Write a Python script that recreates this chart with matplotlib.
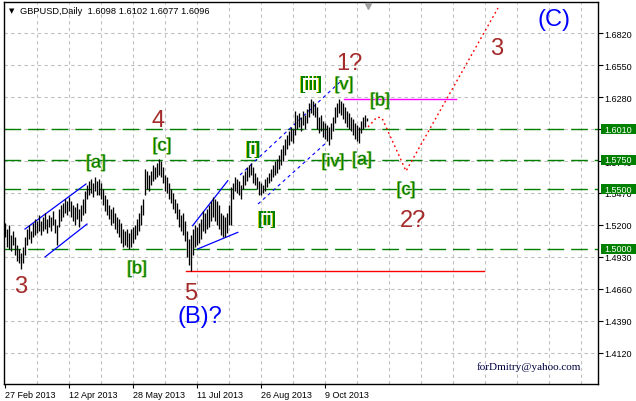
import numpy as np
import matplotlib
matplotlib.use('Agg')
import matplotlib.pyplot as plt
import matplotlib.patheffects as pe
import matplotlib.transforms as mtransforms
from matplotlib.patches import Rectangle

plt.rcParams['font.family'] = ['Liberation Sans', 'DejaVu Sans']

# GBPUSD daily bars, 27 Feb 2013 .. 8 Nov 2013
highs = [1.5217, 1.5166, 1.5200, 1.5116, 1.5149, 1.5099, 1.5031, 1.4998, 1.4964, 1.5014,
         1.5099, 1.5166, 1.5200, 1.5149, 1.5217, 1.5251, 1.5234, 1.5284, 1.5234, 1.5267,
         1.5301, 1.5251, 1.5284, 1.5267, 1.5318, 1.5251, 1.5200, 1.5335, 1.5369, 1.5386,
         1.5419, 1.5402, 1.5436, 1.5402, 1.5369, 1.5352, 1.5386, 1.5335, 1.5369, 1.5419,
         1.5487, 1.5537, 1.5571, 1.5588, 1.5554, 1.5605, 1.5571, 1.5588, 1.5554, 1.5504,
         1.5453, 1.5419, 1.5369, 1.5335, 1.5352, 1.5301, 1.5267, 1.5251, 1.5217, 1.5166,
         1.5149, 1.5166, 1.5133, 1.5166, 1.5183, 1.5200, 1.5251, 1.5301, 1.5369, 1.5419,
         1.5672, 1.5655, 1.5622, 1.5655, 1.5706, 1.5689, 1.5723, 1.5757, 1.5740, 1.5689,
         1.5622, 1.5605, 1.5554, 1.5504, 1.5470, 1.5419, 1.5386, 1.5335, 1.5284, 1.5301,
         1.5234, 1.5149, 1.5082, 1.5116, 1.5166, 1.5200, 1.5183, 1.5217, 1.5251, 1.5318,
         1.5301, 1.5335, 1.5369, 1.5402, 1.5436, 1.5419, 1.5402, 1.5369, 1.5301, 1.5284,
         1.5267, 1.5301, 1.5369, 1.5521, 1.5554, 1.5605, 1.5588, 1.5571, 1.5537, 1.5622,
         1.5655, 1.5689, 1.5706, 1.5723, 1.5689, 1.5639, 1.5605, 1.5571, 1.5554, 1.5537,
         1.5588, 1.5605, 1.5639, 1.5672, 1.5706, 1.5740, 1.5757, 1.5790, 1.5841, 1.5875,
         1.5925, 1.5959, 1.5993, 1.6027, 1.6010, 1.6162, 1.6128, 1.6145, 1.6111, 1.6162,
         1.6128, 1.6179, 1.6229, 1.6263, 1.6246, 1.6229, 1.6196, 1.6111, 1.6128, 1.6077,
         1.6061, 1.6044, 1.6027, 1.6061, 1.6111, 1.6196, 1.6229, 1.6263, 1.6246, 1.6229,
         1.6196, 1.6162, 1.6145, 1.6111, 1.6094, 1.6061, 1.6044, 1.6027, 1.6077, 1.6111,
         1.6128, 1.6102]
lows = [1.5099, 1.5014, 1.4998, 1.4981, 1.5031, 1.4947, 1.4896, 1.4879, 1.4829, 1.4879,
        1.4947, 1.5031, 1.5082, 1.5048, 1.5099, 1.5116, 1.5133, 1.5149, 1.5116, 1.5149,
        1.5166, 1.5133, 1.5183, 1.5149, 1.5200, 1.5133, 1.5031, 1.5183, 1.5234, 1.5267,
        1.5301, 1.5284, 1.5318, 1.5267, 1.5234, 1.5200, 1.5251, 1.5183, 1.5234, 1.5284,
        1.5301, 1.5419, 1.5453, 1.5470, 1.5436, 1.5487, 1.5453, 1.5453, 1.5419, 1.5369,
        1.5318, 1.5284, 1.5251, 1.5200, 1.5217, 1.5166, 1.5133, 1.5099, 1.5048, 1.5014,
        1.5031, 1.5014, 1.4998, 1.5014, 1.5048, 1.5082, 1.5116, 1.5149, 1.5200, 1.5284,
        1.5453, 1.5504, 1.5487, 1.5537, 1.5571, 1.5588, 1.5605, 1.5622, 1.5605, 1.5554,
        1.5487, 1.5470, 1.5419, 1.5386, 1.5335, 1.5301, 1.5251, 1.5183, 1.5149, 1.5116,
        1.5065, 1.4930, 1.4862, 1.4812, 1.4947, 1.5014, 1.5031, 1.5048, 1.5082, 1.5149,
        1.5133, 1.5166, 1.5183, 1.5234, 1.5267, 1.5234, 1.5200, 1.5166, 1.5116, 1.5099,
        1.5099, 1.5133, 1.5200, 1.5200, 1.5419, 1.5487, 1.5470, 1.5453, 1.5419, 1.5504,
        1.5537, 1.5571, 1.5605, 1.5622, 1.5554, 1.5537, 1.5504, 1.5453, 1.5453, 1.5470,
        1.5487, 1.5521, 1.5554, 1.5571, 1.5605, 1.5622, 1.5639, 1.5672, 1.5706, 1.5740,
        1.5790, 1.5841, 1.5875, 1.5909, 1.5892, 1.5959, 1.6010, 1.6027, 1.5993, 1.6044,
        1.6010, 1.6061, 1.6111, 1.6145, 1.6128, 1.6111, 1.6010, 1.5976, 1.5993, 1.5942,
        1.5925, 1.5909, 1.5875, 1.5925, 1.5993, 1.6061, 1.6111, 1.6145, 1.6128, 1.6094,
        1.6061, 1.6027, 1.6010, 1.5993, 1.5959, 1.5925, 1.5909, 1.5892, 1.5976, 1.6010,
        1.6027, 1.6077]

date_labels = ['27 Feb 2013', '12 Apr 2013', '28 May 2013', '11 Jul 2013', '26 Aug 2013', '9 Oct 2013']
date_bars = [0, 32, 64, 96, 128, 160]
price_ticks = [1.6820, 1.6550, 1.6280, 1.6010, 1.5740, 1.5470, 1.5200, 1.4930, 1.4660, 1.4390, 1.4120]
level_prices = [1.6010, 1.5750, 1.5500, 1.5000]
title_text = 'GBPUSD,Daily  1.6098 1.6102 1.6077 1.6096'

# trend channels (bar index, price)
channels_solid = [[(10, 1.5166), (40.5, 1.5546)], [(20, 1.4930), (41, 1.5208)],
                  [(93.8, 1.5194), (111.4, 1.5574)], [(96.4, 1.4998), (116.4, 1.5138)]]
channels_dot = [[(117.5, 1.5622), (167.5, 1.6407)], [(126.5, 1.5377), (161, 1.5900)]]

# forecast path
fc_bars = [181.5, 186, 188.5, 200.5, 246.5]
fc_prices = [1.6027, 1.6111, 1.6103, 1.5655, 1.7031]

red_level = (90.5, 239.5, 1.4812)
pink_level = (169.5, 225.5, 1.6263)

# wave counts (text, bar, price)
waves_red = [('3', 8, 1.4635), ('4', 76.5, 1.6035), ('5', 93, 1.4576), ('1?', 172, 1.6516),
             ('2?', 204, 1.5192), ('3', 246, 1.6643)]
waves_blue = [('(B)?', 97.5, 1.4380), ('(C)', 274.5, 1.6887)]
waves_green = [('[a]', 45.5, 1.5723), ('[b]', 66, 1.4829), ('[c]', 78.5, 1.5866),
               ('[i]', 124, 1.5833), ('[ii]', 131, 1.5242), ('[iii]', 153, 1.6381),
               ('[iv]', 164, 1.5732), ('[v]', 169.5, 1.6381), ('[a]', 178.5, 1.5748),
               ('[b]', 187.5, 1.6246), ('[c]', 200.5, 1.5495)]

fig = plt.figure(figsize=(6.36, 4.02), dpi=100)
ax = fig.add_axes([4/636, 17/402, 594/636, 382/402])
ax.set_xlim(-0.5, 296.5)
ax.set_ylim(1.38584, 1.70816)

# grid
for k in range(1, 19):
    ax.axvline(16*k, color='#c0c0c0', lw=0.8, ls=(0, (3, 3)), zorder=0.5)
for p in price_ticks:
    ax.axhline(p, color='#c0c0c0', lw=0.8, ls=(0, (3, 3)), zorder=0.5)

for p in level_prices:
    ax.axhline(p, color='#008000', lw=1.0, ls=(0, (12, 5)), zorder=1)

bars = np.arange(len(highs))
ax.vlines(bars, lows, highs, color='black', lw=0.95, zorder=3)

for seg in channels_solid:
    ax.plot([seg[0][0], seg[1][0]], [seg[0][1], seg[1][1]], color='blue', lw=0.9, zorder=2)
for seg in channels_dot:
    ax.plot([seg[0][0], seg[1][0]], [seg[0][1], seg[1][1]], color='blue', lw=0.8,
            ls=(0, (3, 3)), zorder=2)

ax.plot([red_level[0], red_level[1]], [red_level[2]]*2, color='#ff0000', lw=1, zorder=2)
ax.plot([pink_level[0], pink_level[1]], [pink_level[2]]*2, color='#ff00ff', lw=1, zorder=2)
ax.plot(fc_bars, fc_prices, color='red', lw=1, ls=(0, (1.3, 2.2)), zorder=2)

for t, x, y in waves_red:
    ax.text(x, y, t, color='#a52a2a', fontsize=17, ha='center', va='baseline', zorder=4)
for t, x, y in waves_blue:
    ax.text(x, y, t, color='blue', fontsize=17, ha='center', va='baseline', zorder=4)
fx = [pe.SimplePatchShadow(offset=(-0.6, 0), shadow_rgbFace='#c8c800', alpha=0.9),
      pe.SimplePatchShadow(offset=(0.6, 0), shadow_rgbFace='#30a0a0', alpha=0.5),
      pe.Normal()]
for t, x, y in waves_green:
    ax.text(x, y, t, color='#008000', fontsize=13, ha='center', va='center', zorder=4,
            path_effects=fx)

# chart shift marker
ax.plot([181.5], [1.7045], marker='v', color='#a0a0a0', ms=5, clip_on=False, zorder=5)

# axes / ticks
for s in ax.spines.values():
    s.set_color('black')
    s.set_linewidth(1)
ax.yaxis.tick_right()
ax.set_yticks(price_ticks)
ax.set_yticklabels(['%.4f' % p for p in price_ticks])
ax.tick_params(axis='y', direction='out', length=3.6, width=0.8, pad=1, labelsize=6.5)
ax.set_xticks(date_bars)
ax.set_xticklabels(date_labels)
ax.tick_params(axis='x', direction='out', length=3, width=0.8, pad=1.5, labelsize=6.5)
for lbl in ax.get_xticklabels():
    lbl.set_ha('left')

# level price boxes on the right scale
tr = mtransforms.blended_transform_factory(fig.transFigure, ax.transData)
for p in level_prices:
    ax.add_patch(Rectangle((601/636, p - 0.0042), 35/636, 0.0084, transform=tr,
                           facecolor='#008000', edgecolor='none', clip_on=False, zorder=2.1))
    ax.text(604/636, p, '%.4f' % p, transform=tr, color='white', fontsize=6.5,
            va='center', ha='left', clip_on=False, zorder=2.2)

fig.text(12/636, 1 - 11/402, '\u25bc', fontsize=5, ha='center', va='center',
         family='DejaVu Sans')
fig.text(20/636, 1 - 11/402, title_text, fontsize=6.7, ha='left', va='center')
fig.text(477/636, 1 - 367/402, 'forDmitry@yahoo.com', fontsize=8, family='Liberation Serif',
         color='#000040', ha='left', va='center')

fig.savefig('out.png', dpi=100)
